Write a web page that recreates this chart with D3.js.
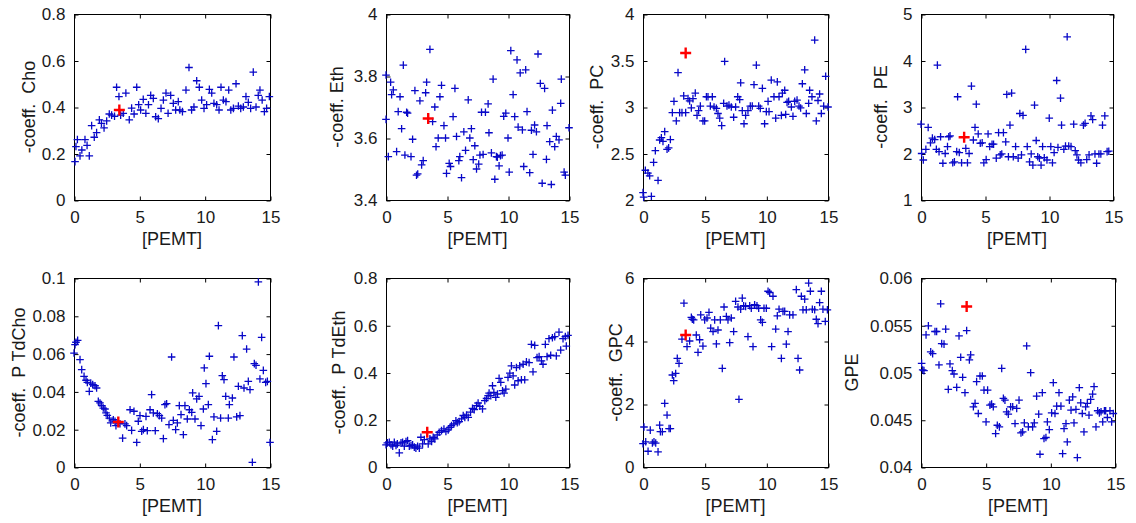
<!DOCTYPE html>
<html><head><meta charset="utf-8">
<script src="https://cdn.jsdelivr.net/npm/d3@7"></script>
<style>body{margin:0;background:#fff}svg{display:block}</style>
</head><body><svg id="c" width="1136" height="523"></svg>
<script>
const xTicks = [0, 5, 10, 15];
const xLabel = "[PEMT]";
const yLabels = ["-coeff.  Cho", "-coeff. Eth", "-coeff.  PC", "-coeff.  PE", "-coeff.  P TdCho", "-coeff.  P TdEth", "-coeff.  GPC", "GPE"];
const yDomains = [[0, 0.8], [3.4, 4], [2, 4], [1, 5], [0, 0.1], [0, 0.8], [0, 6], [0.04, 0.06]];
const yTicks = [
  [0, 0.2, 0.4, 0.6, 0.8], [3.4, 3.6, 3.8, 4], [2, 2.5, 3, 3.5, 4], [1, 2, 3, 4, 5],
  [0, 0.02, 0.04, 0.06, 0.08, 0.1], [0, 0.2, 0.4, 0.6, 0.8], [0, 2, 4, 6], [0.04, 0.045, 0.05, 0.055, 0.06]
];

const choPts = [[0.08,0.165],[0.15,0.23],[0.26,0.26],[0.46,0.19],[0.6,0.215],[0.84,0.26],[1.0,0.235],[1.17,0.19],[1.35,0.32],[1.55,0.27],[1.73,0.29],[1.94,0.345],[2.1,0.33],[2.3,0.31],[2.5,0.34],[2.7,0.37],[2.88,0.365],[3.1,0.36],[3.26,0.485],[3.44,0.445],[3.57,0.365],[3.77,0.373],[3.97,0.46],[4.23,0.345],[4.41,0.395],[4.6,0.37],[4.8,0.485],[4.95,0.41],[5.1,0.387],[5.3,0.433],[5.5,0.373],[5.7,0.41],[5.87,0.45],[6.07,0.437],[6.25,0.358],[6.45,0.35],[6.66,0.394],[6.84,0.43],[7.04,0.46],[7.2,0.373],[7.4,0.45],[7.6,0.416],[7.78,0.387],[7.98,0.423],[8.1,0.387],[8.3,0.38],[8.57,0.473],[8.8,0.57],[9.0,0.387],[9.18,0.40],[9.39,0.513],[9.59,0.485],[9.77,0.43],[9.95,0.394],[10.15,0.41],[10.36,0.476],[10.54,0.46],[10.71,0.416],[10.92,0.41],[11.1,0.387],[11.25,0.485],[11.43,0.43],[11.63,0.423],[11.84,0.473],[12.0,0.387],[12.2,0.394],[12.4,0.50],[12.58,0.404],[12.76,0.394],[12.96,0.40],[13.16,0.445],[13.34,0.42],[13.52,0.394],[13.72,0.55],[13.93,0.40],[14.1,0.45],[14.23,0.473],[14.4,0.43],[14.57,0.38],[14.74,0.394],[14.95,0.445]];

const ethPts = [[0,3.803],[0,3.66],[0.19,3.54],[0.38,3.78],[0.46,3.74],[0.6,3.755],[0.87,3.556],[1.0,3.685],[1.15,3.733],[1.28,3.63],[1.42,3.835],[1.55,3.545],[1.69,3.683],[1.77,3.68],[2.05,3.54],[2.18,3.596],[2.37,3.753],[2.5,3.48],[2.6,3.484],[2.78,3.72],[2.92,3.513],[3.05,3.527],[3.25,3.746],[3.33,3.78],[3.6,3.886],[3.82,3.653],[4.0,3.70],[4.1,3.572],[4.28,3.60],[4.42,3.733],[4.55,3.77],[4.75,3.64],[4.88,3.60],[4.96,3.486],[5.18,3.518],[5.29,3.508],[5.5,3.669],[5.65,3.76],[5.78,3.605],[5.97,3.527],[6.05,3.54],[6.19,3.472],[6.38,3.62],[6.52,3.56],[6.74,3.723],[6.87,3.60],[7.0,3.63],[7.15,3.53],[7.28,3.575],[7.42,3.50],[7.6,3.516],[7.7,3.545],[7.83,3.683],[7.96,3.547],[8.15,3.683],[8.37,3.71],[8.44,3.617],[8.64,3.552],[8.78,3.79],[8.92,3.467],[9.05,3.54],[9.13,3.538],[9.27,3.51],[9.38,3.543],[9.52,3.545],[9.65,3.67],[9.82,3.68],[10.0,3.60],[10.1,3.49],[10.23,3.882],[10.42,3.74],[10.55,3.669],[10.74,3.852],[10.83,3.635],[11.0,3.81],[11.18,3.626],[11.29,3.508],[11.45,3.82],[11.56,3.685],[11.78,3.488],[11.92,3.625],[12.05,3.547],[12.18,3.642],[12.33,3.62],[12.46,3.871],[12.65,3.776],[12.8,3.454],[13.0,3.76],[13.15,3.531],[13.2,3.64],[13.42,3.588],[13.55,3.45],[13.64,3.69],[13.83,3.572],[13.96,3.605],[14.18,3.594],[14.32,3.712],[14.37,3.79],[14.6,3.49],[14.7,3.48],[15.0,3.633]];

const pcPts = [[0,2.08],[0.05,2.03],[0.19,2.32],[0.4,2.29],[0.54,2.26],[0.68,2.04],[0.86,2.405],[1.0,2.53],[1.22,2.21],[1.35,2.645],[1.49,2.67],[1.62,2.63],[1.76,2.735],[1.95,2.545],[2.08,2.56],[2.22,2.65],[2.38,2.94],[2.51,3.06],[2.7,2.85],[2.84,3.37],[2.97,2.94],[3.16,2.94],[3.3,3.12],[3.46,2.94],[3.65,3.09],[3.78,3.065],[3.92,2.99],[4.05,3.09],[4.24,3.15],[4.38,2.91],[4.51,2.96],[4.65,3.01],[4.86,2.85],[5.0,2.85],[5.14,3.11],[5.27,3.11],[5.46,3.01],[5.62,3.11],[5.76,3.0],[5.95,2.985],[6.08,2.93],[6.22,2.88],[6.38,2.8],[6.54,3.04],[6.62,3.49],[6.81,3.01],[6.97,3.02],[7.16,3.0],[7.35,2.89],[7.51,3.0],[7.68,3.11],[7.84,3.08],[7.92,3.26],[8.05,2.96],[8.19,2.82],[8.32,2.91],[8.51,2.96],[8.7,3.01],[8.86,3.01],[9.0,3.24],[9.19,3.45],[9.38,3.01],[9.51,2.985],[9.68,3.2],[9.86,2.82],[10.0,2.95],[10.14,3.06],[10.22,2.95],[10.4,3.29],[10.62,3.11],[10.76,2.88],[10.89,3.27],[11.03,3.11],[11.22,2.91],[11.3,3.15],[11.49,3.18],[11.57,2.92],[11.68,3.05],[11.81,3.06],[12.03,3.0],[12.16,2.9],[12.3,3.06],[12.49,3.075],[12.65,3.01],[12.78,2.99],[12.92,3.25],[13.11,3.4],[13.24,2.93],[13.43,3.04],[13.51,3.18],[13.7,3.11],[13.92,3.72],[14.05,2.85],[14.19,3.07],[14.32,3.14],[14.46,2.93],[14.65,3.01],[14.81,3.33],[15.0,3.0]];

const pePts = [[0,2.63],[0.05,2.0],[0.18,1.86],[0.38,2.09],[0.56,2.56],[0.74,2.23],[0.89,2.33],[1.07,2.3],[1.2,2.09],[1.28,3.9],[1.41,2.04],[1.53,2.36],[1.71,1.79],[1.89,2.0],[2.07,2.15],[2.17,2.36],[2.27,2.38],[2.48,1.8],[2.61,1.82],[2.79,2.04],[2.86,3.22],[2.99,2.02],[3.17,1.8],[3.5,2.11],[3.63,1.8],[3.76,2.0],[3.94,3.45],[4.09,2.29],[4.22,2.56],[4.32,3.06],[4.47,2.42],[4.63,2.22],[4.78,2.23],[4.91,1.8],[5.09,1.87],[5.24,2.42],[5.37,2.15],[5.55,2.2],[5.67,2.2],[5.88,1.9],[6.06,2.45],[6.19,1.97],[6.31,1.99],[6.44,2.45],[6.62,2.25],[6.7,3.27],[6.83,1.93],[6.95,2.61],[7.08,3.3],[7.21,1.93],[7.39,2.15],[7.59,1.9],[7.72,2.86],[7.85,1.97],[7.97,2.82],[8.18,4.24],[8.3,2.15],[8.48,1.82],[8.61,1.99],[8.74,1.75],[8.87,3.04],[9.0,2.28],[9.12,1.93],[9.25,1.9],[9.38,1.75],[9.5,2.15],[9.63,1.91],[9.84,1.86],[10.02,2.76],[10.14,2.15],[10.27,1.8],[10.4,2.02],[10.6,3.57],[10.7,2.13],[10.9,3.19],[10.98,2.61],[11.16,2.09],[11.29,2.16],[11.42,4.51],[11.54,2.16],[11.72,2.15],[11.93,2.63],[12.05,2.06],[12.18,1.97],[12.31,1.86],[12.49,1.8],[12.69,2.61],[12.82,2.65],[12.95,1.87],[13.13,1.97],[13.28,2.81],[13.41,2.73],[13.59,1.99],[13.72,1.79],[13.9,1.99],[14.05,1.99],[14.18,2.61],[14.36,2.81],[14.54,2.04],[14.67,2.05]];

const ptdChoPts = [[0,0.0603],[0.08,0.0647],[0.15,0.066],[0.28,0.067],[0.46,0.0568],[0.59,0.0515],[0.77,0.048],[0.92,0.0459],[1.02,0.0448],[1.17,0.04],[1.28,0.0444],[1.43,0.0436],[1.61,0.043],[1.73,0.0418],[1.86,0.0347],[1.99,0.0339],[2.12,0.0325],[2.24,0.0312],[2.37,0.0307],[2.45,0.0286],[2.55,0.0273],[2.7,0.0259],[2.81,0.0233],[3.01,0.025],[3.14,0.0242],[3.21,0.0219],[3.52,0.0229],[3.72,0.0153],[3.9,0.0228],[4.03,0.0219],[4.29,0.0303],[4.41,0.0194],[4.59,0.0295],[4.8,0.013],[4.92,0.0242],[5.05,0.0272],[5.18,0.0189],[5.31,0.0198],[5.51,0.0268],[5.61,0.0192],[5.82,0.0303],[5.94,0.0383],[6.07,0.0286],[6.22,0.0192],[6.38,0.0282],[6.53,0.0272],[6.71,0.0259],[6.84,0.015],[6.96,0.033],[7.09,0.0335],[7.27,0.0224],[7.47,0.0582],[7.6,0.0247],[7.78,0.0198],[7.91,0.0233],[8.06,0.0325],[8.19,0.0277],[8.37,0.0171],[8.49,0.0325],[8.67,0.0254],[8.83,0.0303],[9.01,0.0289],[9.08,0.0392],[9.26,0.0254],[9.39,0.036],[9.57,0.0374],[9.72,0.0219],[9.9,0.0307],[9.97,0.0524],[10.1,0.0441],[10.28,0.033],[10.36,0.0586],[10.59,0.0145],[10.71,0.0265],[10.92,0.0189],[11.05,0.0748],[11.22,0.0259],[11.35,0.0483],[11.48,0.0462],[11.61,0.0374],[11.81,0.0259],[11.89,0.033],[12.12,0.0365],[12.24,0.0582],[12.45,0.0265],[12.58,0.0427],[12.7,0.0272],[12.88,0.0695],[13.01,0.0418],[13.21,0.0624],[13.34,0.0453],[13.47,0.0409],[13.65,0.0025],[13.8,0.0547],[13.93,0.0538],[14.11,0.0979],[14.23,0.0466],[14.36,0.0686],[14.49,0.0511],[14.67,0.0448],[14.8,0.0453],[15.0,0.013]];

const ptdEthPts = [[0,0.094],[0.11,0.102],[0.27,0.105],[0.41,0.094],[0.55,0.088],[0.68,0.105],[0.82,0.091],[0.93,0.098],[1.09,0.06],[1.23,0.102],[1.36,0.105],[1.5,0.088],[1.64,0.108],[1.77,0.112],[1.91,0.088],[2.05,0.091],[2.18,0.094],[2.32,0.084],[2.45,0.08],[2.59,0.088],[2.73,0.08],[2.86,0.126],[3.0,0.098],[3.14,0.116],[3.46,0.098],[3.6,0.119],[3.74,0.108],[3.87,0.126],[4.0,0.119],[4.2,0.136],[4.36,0.147],[4.55,0.154],[4.75,0.161],[4.91,0.15],[5.1,0.157],[5.24,0.168],[5.37,0.175],[5.56,0.182],[5.73,0.196],[5.84,0.187],[6.0,0.192],[6.19,0.204],[6.33,0.218],[6.46,0.21],[6.6,0.22],[6.74,0.21],[6.93,0.232],[7.09,0.248],[7.23,0.243],[7.42,0.26],[7.55,0.271],[7.69,0.257],[7.91,0.246],[8.1,0.281],[8.24,0.29],[8.37,0.302],[8.45,0.313],[8.59,0.302],[8.73,0.344],[8.84,0.316],[9.0,0.295],[9.14,0.309],[9.27,0.375],[9.41,0.358],[9.55,0.323],[9.68,0.313],[9.82,0.33],[10.0,0.379],[10.15,0.397],[10.28,0.428],[10.42,0.386],[10.55,0.347],[10.69,0.421],[10.83,0.365],[10.96,0.428],[11.1,0.369],[11.24,0.435],[11.37,0.369],[11.51,0.445],[11.73,0.442],[11.92,0.519],[12.05,0.403],[12.19,0.515],[12.38,0.463],[12.55,0.467],[12.74,0.449],[12.87,0.435],[13.06,0.519],[13.2,0.467],[13.36,0.543],[13.5,0.473],[13.64,0.547],[13.83,0.552],[13.96,0.47],[14.18,0.571],[14.32,0.495],[14.51,0.543],[14.7,0.552],[14.78,0.512],[14.92,0.557]];

const gpcPts = [[0,0.74],[0.08,1.27],[0.22,0.8],[0.41,0.5],[0.59,1.17],[0.76,0.76],[0.89,0.8],[1.03,0.76],[1.22,0.48],[1.35,1.33],[1.41,1.12],[1.57,1.12],[1.76,2.02],[1.95,1.65],[2.11,1.22],[2.22,1.22],[2.38,2.92],[2.49,2.74],[2.65,2.97],[2.78,3.45],[2.92,3.29],[3.16,4.06],[3.32,5.2],[3.57,3.82],[3.78,4.0],[3.92,4.75],[4.0,4.69],[4.11,4.67],[4.32,4.19],[4.46,3.64],[4.59,4.04],[4.68,4.83],[4.86,3.84],[5.0,4.67],[5.19,4.73],[5.35,4.91],[5.49,4.41],[5.68,4.3],[5.81,4.67],[5.95,3.91],[6.08,4.35],[6.27,4.67],[6.43,3.13],[6.57,5.08],[6.76,4.78],[6.89,4.67],[7.03,3.95],[7.16,4.73],[7.35,4.3],[7.51,5.26],[7.7,5.08],[7.78,2.15],[7.92,5.01],[8.05,5.36],[8.16,5.12],[8.32,5.1],[8.51,4.14],[8.65,5.12],[8.78,5.04],[8.92,3.82],[9.05,5.15],[9.24,5.12],[9.38,5.04],[9.54,4.67],[9.68,4.59],[9.81,5.04],[10.0,5.04],[10.14,5.58],[10.27,5.54],[10.43,3.82],[10.54,5.42],[10.76,4.38],[10.89,4.8],[11.03,5.01],[11.22,3.45],[11.35,4.94],[11.49,4.94],[11.62,3.9],[11.76,4.3],[11.89,4.83],[12.16,4.83],[12.43,5.63],[12.57,3.45],[12.7,3.08],[12.84,5.42],[12.97,4.99],[13.11,5.33],[13.24,4.99],[13.43,5.84],[13.57,5.58],[13.73,5.01],[13.92,4.99],[14.05,4.69],[14.19,4.55],[14.32,5.22],[14.46,5.58],[14.59,5.01],[14.78,4.62],[14.95,4.99]];

const gpePts = [[0.05,0.05097],[0.13,0.05027],[0.23,0.0502],[0.39,0.05398],[0.57,0.05494],[0.75,0.05218],[0.9,0.052],[1.08,0.05434],[1.21,0.05434],[1.39,0.0508],[1.52,0.05727],[1.6,0.05306],[1.78,0.053],[1.91,0.05459],[2.11,0.04821],[2.24,0.05091],[2.42,0.0502],[2.55,0.04984],[2.76,0.04843],[2.94,0.05388],[3.07,0.05161],[3.22,0.04949],[3.4,0.04786],[3.53,0.05444],[3.74,0.05133],[3.84,0.05186],[4.05,0.04637],[4.18,0.04673],[4.3,0.04903],[4.43,0.04566],[4.56,0.04963],[4.74,0.04963],[4.87,0.04814],[5.03,0.04478],[5.15,0.04814],[5.33,0.04655],[5.46,0.04665],[5.59,0.04637],[5.77,0.04354],[5.9,0.04442],[6.06,0.04425],[6.24,0.05044],[6.37,0.04726],[6.49,0.04708],[6.62,0.04584],[6.75,0.04559],[6.93,0.04637],[7.09,0.04637],[7.27,0.0446],[7.4,0.0462],[7.58,0.04708],[7.73,0.04361],[7.86,0.04372],[7.99,0.04467],[8.17,0.05281],[8.3,0.04425],[8.48,0.04998],[8.63,0.04425],[8.76,0.04467],[8.94,0.0475],[9.1,0.04559],[9.2,0.04135],[9.38,0.04786],[9.51,0.04301],[9.66,0.04312],[9.77,0.04478],[9.92,0.04396],[10.1,0.04573],[10.23,0.04892],[10.36,0.04566],[10.49,0.04644],[10.67,0.04786],[10.82,0.04644],[10.95,0.04142],[11.06,0.04407],[11.21,0.0446],[11.31,0.04265],[11.47,0.04708],[11.6,0.04602],[11.73,0.04743],[11.83,0.04467],[11.98,0.04609],[12.09,0.04099],[12.24,0.04839],[12.35,0.04679],[12.47,0.04566],[12.6,0.04372],[12.73,0.04637],[12.86,0.04673],[12.99,0.04549],[13.12,0.04715],[13.27,0.04772],[13.38,0.0485],[13.53,0.04425],[13.66,0.04595],[13.79,0.04573],[13.92,0.04584],[14.05,0.04478],[14.18,0.04595],[14.28,0.04595],[14.41,0.04524],[14.61,0.04595],[14.74,0.04478],[14.87,0.04566]];

const redPts = [[3.47,0.387],[3.46,3.663],[3.46,3.58],[3.37,2.35],[3.39,0.0238],[3.38,0.147],[3.46,4.19],[3.53,0.05699]];

const seriesList = [choPts, ethPts, pcPts, pePts, ptdChoPts, ptdEthPts, gpcPts, gpePts];

// layout (pixel boxes) kept separate from data
const boxes = [
  {l:74, r:270, t:14, b:200, lab:39}, {l:386, r:569, t:14, b:200, lab:43},
  {l:643, r:828, t:14, b:200, lab:40}, {l:921, r:1113, t:14, b:200, lab:34},
  {l:74, r:270, t:278, b:467, lab:49}, {l:386, r:569, t:278, b:467, lab:41},
  {l:643, r:828, t:278, b:467, lab:21}, {l:921, r:1115, t:278, b:467, lab:63}
];

const svg = d3.select("#c");
const FONT = "'Liberation Sans', Arial, Helvetica, sans-serif";
const TXT = "#1a1a1a";
const BLUE = "#0808c8";

seriesList.forEach((pts, i) => {
  const bx = boxes[i];
  const x = d3.scaleLinear().domain([0, 15]).range([bx.l, bx.r]);
  const y = d3.scaleLinear().domain(yDomains[i]).range([bx.b, bx.t]);
  const g = svg.append("g");

  g.append("rect").attr("x", bx.l + 0.5).attr("y", bx.t + 0.5)
    .attr("width", bx.r - bx.l).attr("height", bx.b - bx.t)
    .attr("fill", "none").attr("stroke", "#000").attr("stroke-width", 1);

  const tl = 4;
  const xa = d3.axisBottom(x).tickValues(xTicks).tickSize(-tl).tickPadding(tl + 6).tickFormat(d => String(d));
  const xg = g.append("g").attr("transform", `translate(0.5,${bx.b + 0.5})`).call(xa);
  const xt = d3.axisTop(x).tickValues(xTicks).tickSize(-tl).tickFormat("");
  const xtg = g.append("g").attr("transform", `translate(0.5,${bx.t + 0.5})`).call(xt);
  const ya = d3.axisLeft(y).tickValues(yTicks[i]).tickSize(-tl).tickPadding(tl + 5).tickFormat(d => String(d));
  const yg = g.append("g").attr("transform", `translate(${bx.l + 0.5},0.5)`).call(ya);
  const yr = d3.axisRight(y).tickValues(yTicks[i]).tickSize(-tl).tickFormat("");
  const yrg = g.append("g").attr("transform", `translate(${bx.r + 0.5},0.5)`).call(yr);
  [xg, xtg, yg, yrg].forEach(a => {
    a.select(".domain").remove();
    a.selectAll("line").attr("stroke", "#000");
    a.selectAll("text").attr("fill", TXT).style("font-family", FONT).style("font-size", "17px");
  });

  g.append("text").attr("x", (bx.l + bx.r) / 2).attr("y", bx.b + 45)
    .attr("text-anchor", "middle").attr("fill", TXT)
    .style("font-family", FONT).style("font-size", "18px").text(xLabel);
  const ly = (bx.t + bx.b) / 2;
  g.append("text").attr("transform", `translate(${bx.l - bx.lab},${ly}) rotate(-90)`)
    .attr("text-anchor", "middle").attr("fill", TXT)
    .style("font-family", FONT).style("font-size", "18px").style("white-space", "pre").text(yLabels[i]);

  const plus = "M-3.8,0H3.8M0,-3.8V3.8";
  g.append("g").selectAll("path").data(pts).join("path")
    .attr("d", plus)
    .attr("transform", d => `translate(${x(d[0])},${y(d[1])})`)
    .attr("fill", "none").attr("stroke", BLUE).attr("stroke-width", 1.3);

  const rp = redPts[i];
  g.append("path").attr("d", "M-5.5,0H5.5M0,-5.5V5.5")
    .attr("transform", `translate(${x(rp[0])},${y(rp[1])})`)
    .attr("fill", "none").attr("stroke", "#ff0000").attr("stroke-width", 2.4);
});
</script>
</body></html>
